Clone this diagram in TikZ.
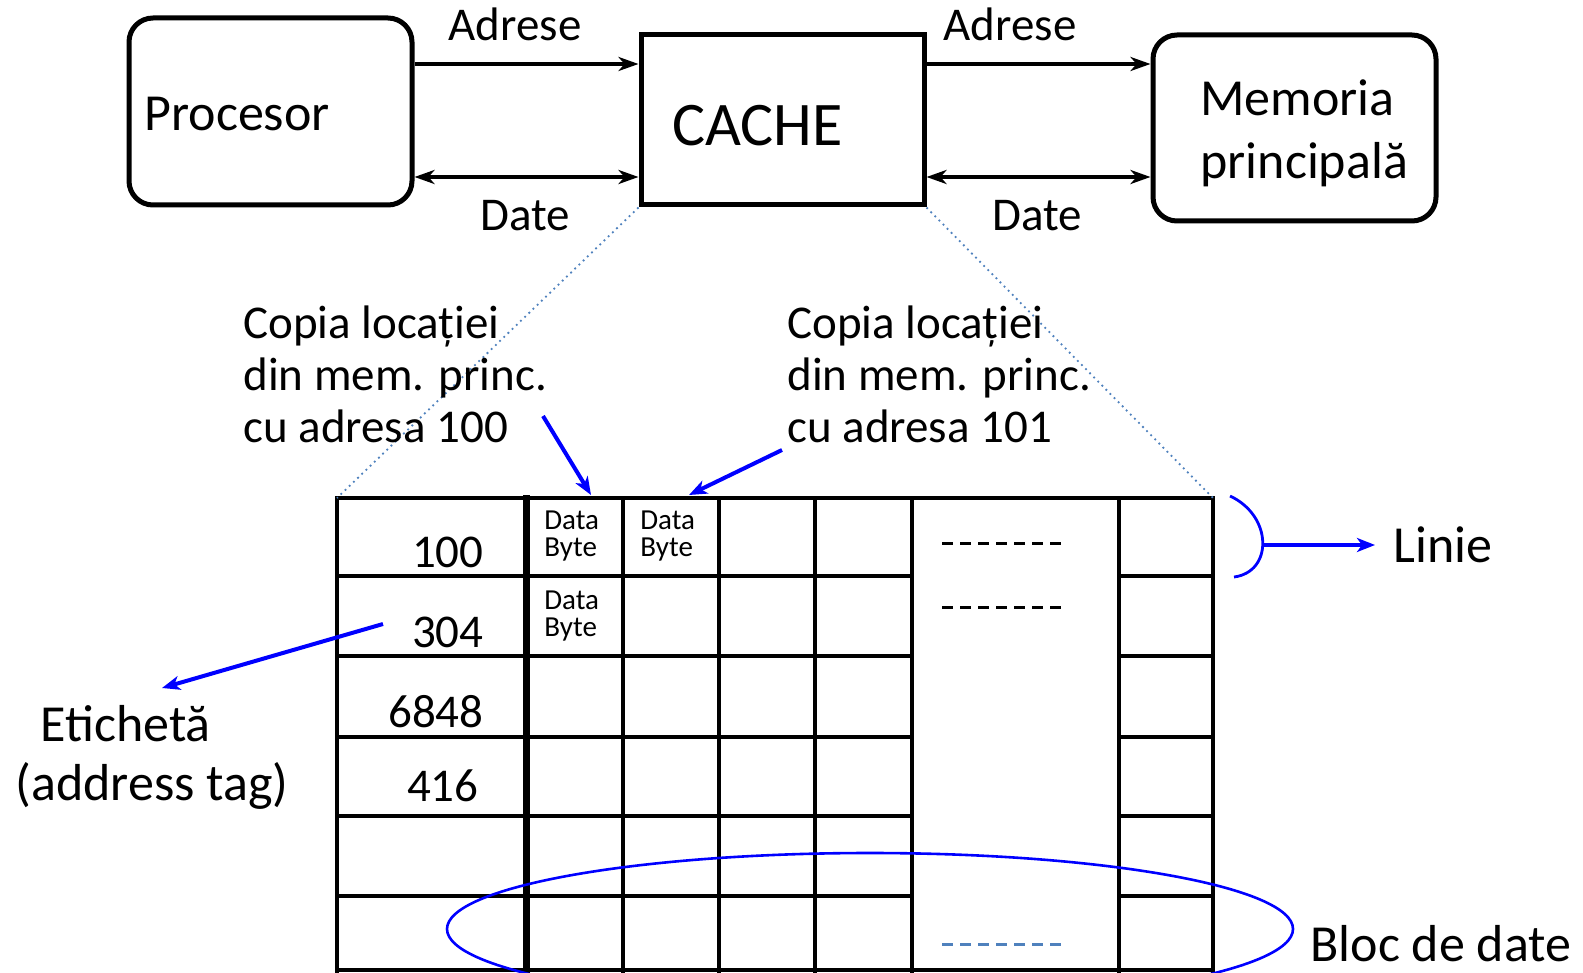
\documentclass[tikz,border=0pt]{standalone}
\usepackage{fontspec}
\setmainfont{Carlito}
\usepackage{xcolor}
\usetikzlibrary{arrows.meta,calc,positioning}
\definecolor{zoomblue}{HTML}{4F81BD}

\begin{document}
\begin{tikzpicture}[x=0.5pt,y=-0.5pt,
  box/.style={draw,line width=2.5pt,minimum width=141.5pt,inner sep=0pt},
  txt/.style={font=\fontsize{26}{31.5}\selectfont,inner sep=0pt},
  lbl/.style={font=\fontsize{23.5}{26}\selectfont,inner sep=0pt},
  byte/.style={font=\fontsize{14.5}{13.6}\selectfont,inner sep=0pt,align=left,anchor=west},
  conn/.style={line width=2pt,-{Stealth[length=10pt,width=7pt,inset=3pt]}},
  bothconn/.style={line width=2pt,{Stealth[length=10pt,width=7pt,inset=3pt]}-{Stealth[length=10pt,width=7pt,inset=3pt]}},
  grid/.style={line width=2.2pt,line cap=rect},
  skipline/.style={line width=1.5pt,dash pattern=on 5.5pt off 3.5pt},
  zoomline/.style={zoomblue,line width=0.9pt,dotted},
  bluearrow/.style={blue,line width=2pt,-{Stealth[length=9pt,width=7pt,inset=2.5pt]}}]
\useasboundingbox (0,0) rectangle (1583,973);
\clip (0,0) rectangle (1583,973);
% top row: processor, cache, main memory
\node[box,rounded corners=12pt,minimum height=93.5pt] (proc) at (270.5,111.5) {};
\node[box,minimum height=85pt] (cache) at (782.5,120) {};
\node[box,rounded corners=12pt,minimum height=93pt] (mem) at (1294.5,128) {};
\node[txt,anchor=west] (proctxt) at (144,114) {Procesor};
\node[font=\fontsize{31}{36}\selectfont,inner sep=0pt,anchor=west] (cachetxt) at (672,126) {CACHE};
\node[txt,anchor=west,align=left] (memtxt) at (1200,133) {Memoria\\principală};
\coordinate (adrrow) at (0,64);
\coordinate (daterow) at (0,177);
\draw[conn] (proc.east |- adrrow) -- (cache.west |- adrrow);
\draw[bothconn] (proc.east |- daterow) -- (cache.west |- daterow);
\draw[conn] (cache.east |- adrrow) -- (mem.west |- adrrow);
\draw[bothconn] (cache.east |- daterow) -- (mem.west |- daterow);
\node[lbl] (adrleft) at (515,24) {Adrese};
\node[lbl] (dateleft) at (525,216) {Date};
\node[lbl] (adrright) at (1010,24) {Adrese};
\node[lbl] (dateright) at (1037,216) {Date};
% cache lines
\coordinate (tbltl) at (337,498); \coordinate (tbltr) at (1213,498);
\foreach \x in {337,623,719,815,912,1119,1213} \draw[grid] (\x,498) -- (\x,971);
\draw[grid,line width=3.5pt] (526,498) -- (526,971);
\draw[grid] (tbltl) -- (tbltr);
\foreach \y in {576,656,737,816,896} {
  \draw[grid] (337,\y) -- (912,\y);
  \draw[grid] (1119,\y) -- (1213,\y);
}
\draw[grid] (337,970) -- (1213,970);
\draw[skipline] (942,543) -- (1066,543);
\draw[skipline] (942,607) -- (1066,607);
\draw[skipline,zoomblue] (942,944) -- (1066,944);
\draw[zoomline] (cache.south west) -- (tbltl);
\draw[zoomline] (cache.south east) -- (tbltr);
\foreach \v/\x/\y in {100/484/552,304/484/632,6848/484/712,416/479/786}
  \node[lbl,anchor=east] (tag\v) at (\x,\y) {\v};
\node[byte] (dbytea) at (544,536) {Data\\Byte};
\node[byte] (dbyteb) at (640,536) {Data\\Byte};
\node[byte] (dbytec) at (544,616) {Data\\Byte};
% annotations
\node[lbl,align=left,anchor=west] (copya) at (243,374) {Copia locației\\din mem. princ.\\cu adresa 100};
\node[lbl,align=left,anchor=west] (copyb) at (787,374) {Copia locației\\din mem. princ.\\cu adresa 101};
\coordinate (copyafrom) at (543,416); \coordinate (copyato) at (591,495);
\coordinate (copybfrom) at (782,450); \coordinate (copybto) at (689,495);
\draw[bluearrow] (copyafrom) -- (copyato);
\draw[bluearrow] (copybfrom) -- (copybto);
\node[txt,anchor=west] (etich) at (40,724) {Etichetă};
\node[txt,anchor=west] (addrtag) at (15,786) {(address tag)};
\coordinate (tagfrom) at (383,624); \coordinate (tagto) at (162,688);
\draw[bluearrow] (tagfrom) -- (tagto);
\coordinate (lntop) at (1230,496); \coordinate (lnbot) at (1234,577); \coordinate (lnmid) at (1263,545);
\draw[blue,line width=1.4pt] (lntop) .. controls (1273,516) and (1273,572) .. (lnbot);
\node[txt,inner xsep=9pt,anchor=west] (linie) at (1375,545) {Linie};
\draw[bluearrow] (lnmid) -- (linie.west);
\draw[blue,line width=1.3pt] (870,929) ellipse [x radius=423,y radius=76];
\node[txt,anchor=west] (bloc) at (1310,944) {Bloc de date};
\end{tikzpicture}
\end{document}
